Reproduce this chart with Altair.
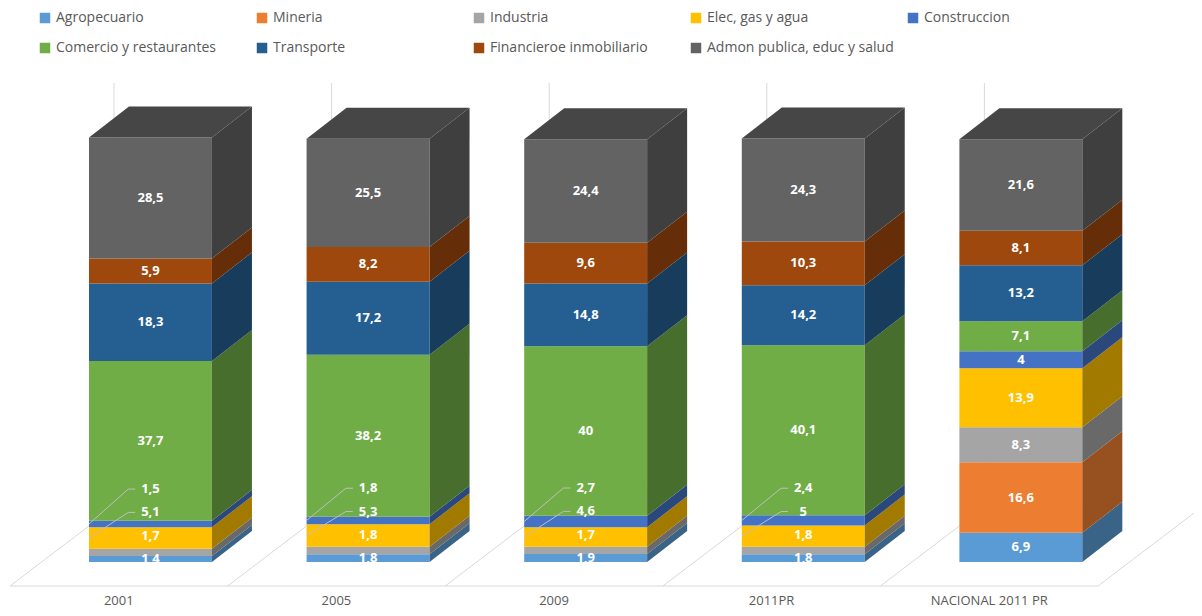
import altair as alt
import pandas as pd

# ---------------- data ----------------
columns = ["2001", "2005", "2009", "2011PR", "NACIONAL 2011 PR"]
sectors = ["Agropecuario", "Mineria", "Industria", "Elec, gas y agua", "Construccion",
           "Comercio y restaurantes", "Transporte", "Financieroe inmobiliario",
           "Admon publica, educ y salud"]
agropecuario = [1.4, 1.8, 1.9, 1.8, 6.9]
mineria = [0, 0, 0, 0, 16.6]
industria = [1.7, 1.8, 1.7, 1.8, 8.3]
elec_gas_agua = [5.1, 5.3, 4.6, 5.0, 13.9]
construccion = [1.5, 1.8, 2.7, 2.4, 4.0]
comercio = [37.7, 38.2, 40.0, 40.1, 7.1]
transporte = [18.3, 17.2, 14.8, 14.2, 13.2]
financiero = [5.9, 8.2, 9.6, 10.3, 8.1]
admon = [28.5, 25.5, 24.4, 24.3, 21.6]
series = [agropecuario, mineria, industria, elec_gas_agua, construccion,
          comercio, transporte, financiero, admon]

# ---------------- style ----------------
front_colors = ["#5B9BD5", "#ED7D31", "#A5A5A5", "#FFC000", "#4472C4",
                "#70AD47", "#255E91", "#9E480E", "#636363"]


def shade(hexcol, f):
    h = hexcol.lstrip("#")
    r, g, b = (int(h[i:i + 2], 16) for i in (0, 2, 4))
    return "#%02x%02x%02x" % (int(r * f), int(g * f), int(b * f))


side_colors = [shade(c, 0.64) for c in front_colors]
top_color = "#464646"
FONT = "Open Sans"
W, H = 1186, 600

# geometry (in scale units)
unit_px = 217.6          # px per category
ppu = 4.24               # px per percentage point
base_px = 554            # plot-y of value 0
x_min = -2 / unit_px
x_max = (W - 2) / unit_px
y_max = base_px / ppu
y_min = -(H - base_px) / ppu
bar_l, bar_r = 0.363, 0.928
bar_c = (bar_l + bar_r) / 2
dxu = 40 / unit_px
dvu = 31 / ppu
floor_front = -24 / ppu
floor_depth_x = 104 / unit_px
floor_back = floor_front + 104 * 0.76 / ppu
wall_top = 479 / ppu
cat_label_y = -39 / ppu
label_gap = 5.5

xs = alt.Scale(domain=[x_min, x_max], nice=False, zero=False)
ys = alt.Scale(domain=[y_min, y_max], nice=False, zero=False)

# ---------------- tables ----------------
seg_rows, side_rows, top_rows, lab_rows, lead_rows = [], [], [], [], []
for ci, col in enumerate(columns):
    base = 0.0
    prev_label = -1e9
    for si, s in enumerate(sectors):
        v = series[si][ci]
        if v <= 0:
            continue
        lo, hi = base, base + v
        base = hi
        key = f"{ci}-{si}"
        seg_rows.append(dict(column=col, sector=s, x=ci + bar_l, x2=ci + bar_r, lo=lo, hi=hi))
        for k in (0, 1):
            side_rows.append(dict(key=key, color=side_colors[si],
                                  x=ci + bar_r + k * dxu, lo=lo + k * dvu, hi=hi + k * dvu))
        center = (lo + hi) / 2
        ly = max(center, prev_label + label_gap)
        prev_label = ly
        lab_rows.append(dict(x=ci + bar_c, y=ly, text=f"{v:g}".replace(".", ",")))
        if ly - center > 4.5:
            pts = [(ci + bar_c - 0.07, ly), (ci + bar_c - 0.102, ly), (ci + bar_l, center)]
            for o, (px, py) in enumerate(pts):
                lead_rows.append(dict(key=key, o=o, x=px, y=py))
    T = base
    for px, a, b in [(ci + bar_l, T, T), (ci + bar_l + dxu, T, T + dvu),
                     (ci + bar_r, T, T + dvu), (ci + bar_r + dxu, T + dvu, T + dvu)]:
        top_rows.append(dict(key=f"top{ci}", x=px, lo=a, hi=b))

segs = pd.DataFrame(seg_rows)
sides = pd.DataFrame(side_rows)
tops = pd.DataFrame(top_rows)
labs = pd.DataFrame(lab_rows)
leads = pd.DataFrame(lead_rows)

n = len(columns)
grid = pd.DataFrame(dict(k=list(range(n + 1))))
grid["xf"] = grid["k"].astype(float)
grid["xb"] = grid["xf"] + floor_depth_x
grid["yf"] = floor_front
grid["yb"] = floor_back
grid["yt"] = wall_top
front_edge = pd.DataFrame(dict(x=[0.0], x2=[float(n)], y=[floor_front]))
cats = pd.DataFrame(dict(column=columns, x=[i + 0.5 for i in range(n)], y=cat_label_y))

line_col = "#d9d9d9"

floor_diag = alt.Chart(grid).mark_rule(color=line_col, strokeWidth=1, clip=True).encode(
    x=alt.X("xf:Q", scale=xs, axis=None), x2="xb:Q",
    y=alt.Y("yf:Q", scale=ys, axis=None), y2="yb:Q")
wall = alt.Chart(grid).mark_rule(color=line_col, strokeWidth=1, clip=True).encode(
    x=alt.X("xb:Q", scale=xs, axis=None),
    y=alt.Y("yb:Q", scale=ys, axis=None), y2="yt:Q")
front_line = alt.Chart(front_edge).mark_rule(color=line_col, strokeWidth=1).encode(
    x=alt.X("x:Q", scale=xs, axis=None), x2="x2:Q",
    y=alt.Y("y:Q", scale=ys, axis=None))

front = alt.Chart(segs).mark_rect().encode(
    x=alt.X("x:Q", scale=xs, axis=None), x2="x2:Q",
    y=alt.Y("lo:Q", scale=ys, axis=None), y2="hi:Q",
    color=alt.Color("sector:N", sort=sectors,
                    scale=alt.Scale(domain=sectors, range=front_colors),
                    legend=alt.Legend(orient="none", legendX=30, legendY=3, direction="horizontal",
                                      columns=5, gridAlign="all", title=None,
                                      symbolType="square", symbolSize=110, symbolStrokeWidth=0,
                                      labelFontSize=14, labelFont=FONT, labelColor="#595959",
                                      labelLimit=400, labelOffset=4, columnPadding=12,
                                      rowPadding=16, padding=0)))

side = alt.Chart(sides).mark_area().encode(
    x=alt.X("x:Q", scale=xs, axis=None),
    y=alt.Y("lo:Q", scale=ys, axis=None), y2="hi:Q",
    detail="key:N",
    color=alt.Color("color:N", scale=None))

top = alt.Chart(tops).mark_area(color=top_color).encode(
    x=alt.X("x:Q", scale=xs, axis=None),
    y=alt.Y("lo:Q", scale=ys, axis=None), y2="hi:Q",
    detail="key:N")

leaders = alt.Chart(leads).mark_line(color="#bfbfbf", strokeWidth=1).encode(
    x=alt.X("x:Q", scale=xs, axis=None),
    y=alt.Y("y:Q", scale=ys, axis=None),
    detail="key:N", order="o:Q")

labels = alt.Chart(labs).mark_text(color="white", fontWeight="bold", fontSize=13,
                                   font=FONT, baseline="middle", align="center").encode(
    x=alt.X("x:Q", scale=xs, axis=None),
    y=alt.Y("y:Q", scale=ys, axis=None),
    text="text:N")

cat_text = alt.Chart(cats).mark_text(color="#595959", fontSize=13, font=FONT,
                                     baseline="middle", align="center").encode(
    x=alt.X("x:Q", scale=xs, axis=None),
    y=alt.Y("y:Q", scale=ys, axis=None),
    text="column:N")

chart = alt.layer(floor_diag, wall, front_line, front, side, top, leaders, labels, cat_text).properties(
    width=W, height=H, padding=0,
    autosize=alt.AutoSizeParams(type="none"),
    background="white",
).configure_view(stroke=None)

chart.save("out.html", embed_options={"renderer": "svg", "actions": False})
